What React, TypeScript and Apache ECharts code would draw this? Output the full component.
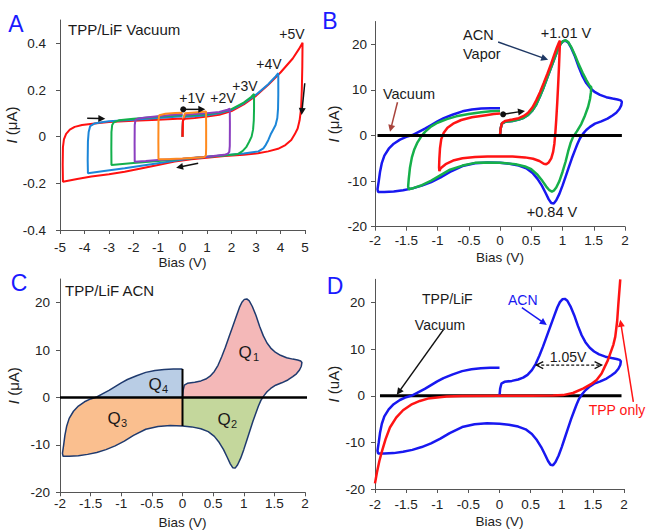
import React, { useEffect, useRef } from "react";
import * as echarts from "echarts";

type P = [number, number];
const FONT = "Liberation Sans, Arial, sans-serif";

// ---------- Panel A (TPP/LiF vacuum, sweeps to ±1..±5 V) ----------
const A_LOOP_1V: P[] = [[0,0],[0.02,0.07],[0.1,0.1],[0.5,0.104],[0.96,0.108],[0.965,0.05],[0.965,-0.05],[0.955,-0.08],[0.9,-0.087],[0.5,-0.09],[0,-0.094],[-0.5,-0.096],[-0.98,-0.097],[-0.985,-0.02],[-0.98,0.07],[-0.95,0.092],[-0.7,0.098],[-0.3,0.101],[0,0.103]];
const A_LOOP_2V: P[] = [[0,0],[0.02,0.07],[0.1,0.094],[0.5,0.097],[1,0.1],[1.5,0.106],[1.8,0.114],[1.93,0.12],[1.935,0.05],[1.93,-0.04],[1.91,-0.065],[1.85,-0.073],[1.7,-0.078],[1,-0.086],[0,-0.095],[-1,-0.1],[-1.5,-0.104],[-1.95,-0.107],[-1.955,-0.03],[-1.95,0.05],[-1.92,0.072],[-1.8,0.078],[-1.5,0.082],[-1,0.088],[-0.5,0.093],[0,0.097]];
const A_LOOP_3V: P[] = [[0,0],[0.02,0.07],[0.1,0.09],[0.5,0.093],[1,0.096],[1.5,0.103],[2,0.118],[2.5,0.146],[2.8,0.17],[2.92,0.183],[2.92,0.12],[2.91,0.07],[2.88,0.03],[2.82,0.0],[2.72,-0.022],[2.6,-0.045],[2.45,-0.062],[2.27,-0.074],[1.8,-0.08],[1,-0.086],[0.36,-0.093],[-0.5,-0.1],[-1.0,-0.104],[-2.0,-0.113],[-2.9,-0.121],[-2.905,-0.05],[-2.9,0.02],[-2.87,0.05],[-2.8,0.062],[-2.6,0.07],[-2,0.077],[-1,0.085],[0,0.093]];
const A_LOOP_4V: P[] = [[0,0],[0.02,0.07],[0.1,0.085],[0.5,0.088],[1,0.092],[1.5,0.1],[2,0.115],[2.5,0.143],[3,0.18],[3.5,0.225],[3.8,0.258],[3.91,0.272],[3.91,0.18],[3.9,0.12],[3.87,0.08],[3.8,0.05],[3.7,0.03],[3.6,0.01],[3.5,-0.015],[3.4,-0.035],[3.3,-0.05],[3.1,-0.063],[2.5,-0.072],[1.72,-0.08],[0.36,-0.093],[-1.0,-0.114],[-2.36,-0.135],[-3.2,-0.147],[-3.86,-0.157],[-3.87,-0.1],[-3.86,-0.02],[-3.83,0.02],[-3.77,0.045],[-3.6,0.056],[-3.3,0.062],[-3,0.066],[-2,0.073],[-1,0.08],[0,0.088]];
const A_LOOP_5V: P[] = [[0,0],[0.02,0.072],[0.1,0.077],[0.5,0.08],[1,0.086],[1.5,0.094],[2,0.11],[2.5,0.138],[3,0.175],[3.5,0.222],[4,0.275],[4.5,0.335],[4.75,0.375],[4.9,0.403],[4.89,0.3],[4.87,0.2],[4.84,0.12],[4.78,0.07],[4.7,0.035],[4.58,0.01],[4.44,-0.014],[4.2,-0.036],[3.9,-0.052],[3.5,-0.063],[3.08,-0.071],[2.5,-0.077],[1.72,-0.083],[0.36,-0.097],[-0.32,-0.107],[-1.0,-0.121],[-1.7,-0.136],[-2.36,-0.15],[-3.0,-0.161],[-3.72,-0.171],[-4.3,-0.181],[-4.88,-0.193],[-4.89,-0.12],[-4.88,-0.045],[-4.84,-0.012],[-4.75,0.012],[-4.6,0.03],[-4.4,0.042],[-4.1,0.05],[-3.5,0.058],[-3,0.063],[-2,0.068],[-1,0.073],[0,0.078]];
// arrows: [x1, y1, x2, y2, dotAtStart, doubleHead]
const A_ARROWS = [[-3.89,0.079,-3.15,0.077,0,0],[4.99,0.229,4.86,0.093,0,0],[0.64,-0.114,-0.26,-0.133,0,0],[0.03,0.117,0.93,0.117,1,0]];
const A_YTICKS = [-0.4,-0.2,0,0.2,0.4];

// ---------- Panel B / C / D (ACN vapour) ----------
const ACN_LOOP: P[] = [
  [0,0],[0.01,1.5],[0.03,2.6],[0.08,3.0],[0.2,3.2],[0.3,3.5],[0.38,3.9],[0.45,4.5],[0.52,5.5],[0.58,6.8],[0.64,8.6],[0.7,10.6],[0.76,12.8],[0.82,15.0],[0.88,17.2],[0.93,19.0],[0.97,20.1],[1.01,20.7],[1.05,20.8],[1.09,20.4],[1.14,19.2],[1.2,17.3],[1.26,15.0],[1.32,13.0],[1.38,11.5],[1.45,10.3],[1.52,9.5],[1.6,8.9],[1.7,8.4],[1.8,8.1],[1.88,7.9],[1.93,7.7],[1.95,7.4],
  [1.94,6.6],[1.91,5.8],[1.86,5.0],[1.8,4.4],[1.72,3.7],[1.62,3.1],[1.52,2.6],[1.44,1.9],[1.38,1.2],[1.33,0.4],[1.28,-0.6],[1.24,-1.8],[1.2,-3.2],[1.15,-5.0],[1.1,-7.0],[1.05,-9.0],[1.0,-11.0],[0.95,-12.8],[0.9,-14.2],[0.86,-14.9],[0.82,-14.8],[0.78,-14.0],[0.73,-12.6],[0.67,-11.0],[0.6,-9.5],[0.52,-8.2],[0.42,-7.2],[0.3,-6.6],[0.15,-6.2],[0,-6.0],
  [-0.2,-5.9],[-0.4,-6.1],[-0.6,-6.7],[-0.8,-8.0],[-0.95,-9.2],[-1.1,-10.2],[-1.25,-11.0],[-1.4,-11.6],[-1.55,-12.0],[-1.7,-12.3],[-1.85,-12.4],[-1.95,-12.4],
  [-1.96,-11.8],[-1.94,-10.0],[-1.92,-8.0],[-1.89,-6.0],[-1.85,-4.4],[-1.78,-2.9],[-1.7,-1.8],[-1.6,-0.9],[-1.5,-0.3],[-1.4,0.1],[-1.3,0.8],[-1.2,1.5],[-1.1,2.3],[-1.0,3.1],[-0.9,3.8],[-0.75,4.6],[-0.6,5.3],[-0.45,5.7],[-0.3,5.9],[-0.15,6.0],[0,6.0]
];
const B_LOOP_15V: P[] = [
  [0,0],[0.01,1.5],[0.03,2.6],[0.08,3.0],[0.2,3.2],[0.3,3.5],[0.38,3.9],[0.45,4.5],[0.52,5.5],[0.58,6.8],[0.64,8.6],[0.7,10.6],[0.76,12.8],[0.82,15.0],[0.88,17.2],[0.93,19.0],[0.97,20.1],[1.01,20.7],[1.05,20.9],[1.09,20.5],[1.14,19.4],[1.2,17.6],[1.26,15.6],[1.32,13.8],[1.38,12.2],[1.43,11.0],[1.46,10.6],
  [1.455,9.5],[1.44,8.0],[1.41,6.3],[1.36,4.4],[1.3,2.5],[1.23,0.9],[1.17,-0.3],[1.13,-1.6],[1.09,-3.5],[1.05,-5.7],[1.0,-8.0],[0.95,-10.0],[0.9,-11.4],[0.86,-12.1],[0.83,-12.3],[0.79,-12.0],[0.74,-11.2],[0.68,-10.0],[0.6,-8.6],[0.5,-7.4],[0.4,-6.8],[0.25,-6.3],[0.1,-6.1],[0,-6.0],
  [-0.2,-5.9],[-0.4,-6.0],[-0.6,-6.6],[-0.8,-7.5],[-0.95,-8.7],[-1.1,-9.9],[-1.25,-10.9],[-1.38,-11.5],[-1.46,-11.8],
  [-1.47,-11.2],[-1.46,-9.5],[-1.44,-7.0],[-1.41,-4.8],[-1.37,-3.0],[-1.32,-1.5],[-1.26,-0.2],[-1.2,0.8],[-1.1,2.0],[-1.0,2.8],[-0.85,3.6],[-0.7,4.2],[-0.5,4.7],[-0.3,5.1],[-0.15,5.3],[0,5.4]
];
const B_LOOP_1V: P[] = [
  [0,0],[0.01,1.5],[0.03,2.7],[0.08,3.2],[0.2,3.5],[0.3,3.8],[0.38,4.3],[0.45,5.0],[0.52,6.2],[0.58,7.7],[0.64,9.5],[0.7,11.5],[0.76,13.6],[0.82,15.8],[0.87,17.8],[0.91,19.3],[0.94,20.3],[0.96,20.8],
  [0.955,19.0],[0.945,15.5],[0.93,11.0],[0.915,7.0],[0.9,3.5],[0.885,0.5],[0.87,-1.8],[0.85,-3.6],[0.82,-5.0],[0.78,-5.9],[0.74,-6.3],[0.7,-6.2],[0.63,-5.6],[0.53,-5.1],[0.4,-4.8],[0.2,-4.6],[0,-4.6],[-0.2,-4.6],[-0.4,-4.7],[-0.6,-5.0],[-0.75,-5.5],[-0.87,-6.3],[-0.95,-7.2],[-0.97,-7.8],
  [-0.975,-7.0],[-0.97,-5.0],[-0.96,-2.8],[-0.94,-0.8],[-0.9,0.6],[-0.84,1.7],[-0.75,2.6],[-0.62,3.4],[-0.45,4.0],[-0.25,4.4],[-0.1,4.7],[0,4.8]
];
const B_VACUUM: P[] = [[-1.96,0],[1.95,0]];
const B_ARROWS_NAVY = [[-0.03,20.5,0.77,16.6,0,0]];
const B_ARROWS_BROWN = [[-1.64,7.3,-1.76,0.8,0,0]];
const B_ARROWS_BLACK = [[0.05,4.65,0.4,5.4,1,0]];

const C_ZERO: P[] = [[-2,0],[2.21,0]];
const C_SPLIT: P[] = [[0,6.0],[0,-6.0]];
const Q_FILLS = ["#f4b8b8", "#c4d79c", "#fabf8f", "#b9cde5"];

const D_VACUUM: P[] = [[-1.92,0],[1.96,0]];
const D_TPP_ONLY: P[] = [[-2,-18.8],[-1.97,-16.5],[-1.93,-14.0],[-1.89,-12.0],[-1.83,-9.3],[-1.76,-6.8],[-1.66,-4.7],[-1.55,-3.1],[-1.42,-1.9],[-1.28,-1.1],[-1.15,-0.6],[-1.0,-0.35],[-0.85,-0.15],[-0.6,-0.05],[0,0],[0.5,0.03],[0.86,0.05],[1.02,0.15],[1.18,0.6],[1.35,1.6],[1.47,2.5],[1.56,3.4],[1.64,4.8],[1.69,6.2],[1.74,7.6],[1.78,9.1],[1.83,11.0],[1.86,12.7],[1.89,16.0],[1.91,19.8],[1.94,25]];
const D_ARROWS_BLUE = [[0.36,18.9,0.76,15.2,0,0]];
const D_ARROWS_BLACK = [[-0.9,14.2,-1.65,0.2,0,0]];
const D_ARROWS_RED = [[2.15,-1.3,1.94,16.3,0,0]];
const D_ARROWS_DASH = [[0.59,6.6,1.64,6.6,0,1]];
const UA_YTICKS = [-20,-10,0,10,20];

function cut(a: P, b: P, ax: number): P {
  const t = a[ax] / (a[ax] - b[ax]);
  return [a[0] + (b[0] - a[0]) * t, a[1] + (b[1] - a[1]) * t];
}
function clipPoly(poly: P[], ax: number, sign: number): P[] {
  const out: P[] = [];
  const inside = (p: P) => sign * p[ax] >= 0;
  for (let i = 0; i < poly.length; i++) {
    const cur = poly[i];
    const prev = poly[(i + poly.length - 1) % poly.length];
    const ci = inside(cur), pi = inside(prev);
    if (ci) {
      if (!pi) out.push(cut(prev, cur, ax));
      out.push(cur);
    } else if (pi) out.push(cut(prev, cur, ax));
  }
  return out;
}

const line = (data: P[], color: string, width: number, gi: number, extra: any = {}) => ({
  type: "line", data, xAxisIndex: gi, yAxisIndex: gi, showSymbol: false, symbol: "none",
  silent: true, lineStyle: { color, width }, itemStyle: { color }, ...extra,
});

const arrows = (data: number[][], color: string, gi: number, dashed = false, width = 1.5) => ({
  type: "custom", xAxisIndex: gi, yAxisIndex: gi, silent: true, clip: false, z: 6,
  dimensions: ["x1", "y1", "x2", "y2", "dot", "dbl"],
  encode: { x: [0, 2], y: [1, 3] },
  data,
  renderItem: (_p: any, api: any) => {
    const a = api.coord([api.value(0), api.value(1)]);
    const b = api.coord([api.value(2), api.value(3)]);
    const dot = api.value(4), dbl = api.value(5);
    const dx = b[0] - a[0], dy = b[1] - a[1];
    const L = Math.hypot(dx, dy) || 1;
    const ux = dx / L, uy = dy / L;
    const HL = 7, HW = 3.5;
    const head = (t: number[], sx: number, sy: number) => [
      [t[0] - sx * HL - sy * HW, t[1] - sy * HL + sx * HW],
      [t[0], t[1]],
      [t[0] - sx * HL + sy * HW, t[1] - sy * HL - sx * HW],
    ];
    const children: any[] = [];
    const s = dbl && !dashed ? [a[0] + ux * HL * 0.7, a[1] + uy * HL * 0.7] : a;
    const e = dashed ? b : [b[0] - ux * HL * 0.7, b[1] - uy * HL * 0.7];
    children.push({ type: "line", shape: { x1: s[0], y1: s[1], x2: e[0], y2: e[1] },
      style: { stroke: color, lineWidth: width, lineDash: dashed ? [3, 2] : null } });
    const heads = [head(b, ux, uy)];
    if (dbl) heads.push(head(a, -ux, -uy));
    heads.forEach((h) => {
      if (dashed) children.push({ type: "polyline", shape: { points: h }, style: { stroke: color, lineWidth: 1.3, fill: null } });
      else children.push({ type: "polygon", shape: { points: h }, style: { fill: color } });
    });
    if (dot) children.push({ type: "circle", shape: { cx: a[0], cy: a[1], r: 3 }, style: { fill: color } });
    return { type: "group", children };
  },
});

const quadrants = {
  type: "custom", xAxisIndex: 2, yAxisIndex: 2, silent: true, z: 1,
  dimensions: ["x", "y", "q"],
  data: Q_FILLS.map((_c, i) => [0, 0, i]),
  renderItem: (_p: any, api: any) => {
    const q = api.value(2);
    const sx = q === 0 || q === 1 ? 1 : -1;
    const sy = q === 0 || q === 3 ? 1 : -1;
    const poly = clipPoly(clipPoly(ACN_LOOP, 0, sx), 1, sy);
    return { type: "polygon", shape: { points: poly.map((p) => api.coord(p)) }, style: { fill: Q_FILLS[q] } };
  },
};

const AXC = "#555";
const xAx = (gi: number, min: number, max: number, interval: number, margin: number, gap: number) => ({
  type: "value", gridIndex: gi, min, max, interval,
  name: "Bias (V)", nameLocation: "middle", nameGap: gap,
  nameTextStyle: { fontSize: 13.5, color: "#222", fontFamily: FONT },
  axisLine: { onZero: false, lineStyle: { color: AXC, width: 1 } },
  axisTick: { length: 4, lineStyle: { color: AXC } },
  axisLabel: { fontSize: 13.5, color: "#222", fontFamily: FONT, margin },
  splitLine: { show: false },
});
const yAx = (gi: number, min: number, max: number, ticks: number[], margin: number, gap: number, unit: string) => ({
  type: "value", gridIndex: gi, min, max,
  name: "{i|I} (" + unit + ")", nameLocation: "middle", nameRotate: 90, nameGap: gap,
  nameTextStyle: { fontSize: 15, color: "#222", fontFamily: FONT,
    rich: { i: { fontStyle: "italic", fontSize: 15, color: "#222", fontFamily: FONT } } },
  axisLine: { onZero: false, lineStyle: { color: AXC, width: 1 } },
  axisTick: { length: 4, lineStyle: { color: AXC }, customValues: ticks },
  axisLabel: { fontSize: 13.5, color: "#222", fontFamily: FONT, margin, customValues: ticks },
  splitLine: { show: false },
});

const txt = (x: number, y: number, text: string, opts: any = {}) => ({
  type: "text", x, y, silent: true, z: 10,
  style: { text, fill: opts.color || "#1a1a1a", fontSize: opts.size || 14, fontFamily: FONT,
    fontStyle: opts.italic ? "italic" : "normal",
    align: opts.align || "center", verticalAlign: "middle" },
});

export default function App() {
  const ref = useRef<HTMLDivElement>(null);
  useEffect(() => {
    if (!ref.current) return;
    const chart = echarts.init(ref.current, null, { renderer: "svg" });
    const LETTER = "#1a1aff";
    chart.setOption({
      animation: false,
      backgroundColor: "#fff",
      grid: [
        { left: 60, top: 20, width: 245, height: 210 },
        { left: 375, top: 21.5, width: 250, height: 205.2 },
        { left: 60, top: 279, width: 245, height: 213.3 },
        { left: 375, top: 279.3, width: 249, height: 209.7 },
      ],
      xAxis: [
        xAx(0, -5, 5, 1, 10, 25),
        xAx(1, -2, 2, 0.5, 7, 24),
        xAx(2, -2, 2, 0.5, 4, 23),
        xAx(3, -2, 2, 0.5, 8, 25),
      ],
      yAxis: [
        yAx(0, -0.4, 0.5, A_YTICKS, 14, 37, "μA"),
        yAx(1, -20, 25, UA_YTICKS, 8, 34, "μA"),
        yAx(2, -20, 25, UA_YTICKS, 10, 39, "μA"),
        yAx(3, -20, 25, UA_YTICKS, 10, 34, "uA"),
      ],
      series: [
        line(A_LOOP_5V, "#ff1010", 2, 0),
        line(A_LOOP_4V, "#1c86d8", 2, 0),
        line(A_LOOP_3V, "#12b04c", 2, 0),
        line(A_LOOP_2V, "#8b3fc0", 2, 0),
        line(A_LOOP_1V, "#ff8a1e", 2, 0),
        line(A_LOOP_5V.slice(0, 3), "#ff1010", 2, 0),
        arrows(A_ARROWS, "#111", 0),

        line(ACN_LOOP, "#1818f0", 2.5, 1),
        line(B_LOOP_15V, "#16b04a", 2.5, 1),
        line(B_LOOP_1V, "#ff1414", 2.5, 1),
        line(B_VACUUM, "#000", 3, 1),
        arrows(B_ARROWS_NAVY, "#1f3864", 1),
        arrows(B_ARROWS_BROWN, "#a8443c", 1),
        arrows(B_ARROWS_BLACK, "#111", 1),

        quadrants,
        line(ACN_LOOP, "#1f3a6e", 1.5, 2, { z: 3 }),
        line(C_ZERO, "#000", 2.5, 2, { clip: false, z: 4 }),
        line(C_SPLIT, "#000", 2, 2, { z: 4 }),

        line(D_VACUUM, "#000", 3, 3),
        line(ACN_LOOP, "#1818f0", 2.5, 3),
        line(D_TPP_ONLY, "#ff1414", 2.5, 3, { clip: false }),
        arrows(D_ARROWS_BLUE, "#1818f0", 3),
        arrows(D_ARROWS_BLACK, "#111", 3),
        arrows(D_ARROWS_RED, "#ff1414", 3),
        arrows(D_ARROWS_DASH, "#111", 3, true, 1.3),
      ],
      graphic: [
        txt(16, 24, "A", { color: LETTER, size: 23 }),
        txt(330, 21, "B", { color: LETTER, size: 23 }),
        txt(19, 283, "C", { color: LETTER, size: 23 }),
        txt(335, 286, "D", { color: LETTER, size: 23 }),
        txt(68, 29, "TPP/LiF Vacuum", { align: "left", size: 15 }),
        txt(192, 98, "+1V"),
        txt(223, 98, "+2V"),
        txt(245, 86, "+3V"),
        txt(269, 64, "+4V"),
        txt(292, 34, "+5V"),
        txt(463, 35, "ACN", { align: "left", size: 14.5 }),
        txt(463, 54, "Vapor", { align: "left", size: 14.5 }),
        txt(566, 33, "+1.01 V", { size: 14.5 }),
        txt(409, 94, "Vacuum", { size: 14.5 }),
        txt(552, 212, "+0.84 V", { size: 14.5 }),
        txt(65, 290, "TPP/LiF ACN", { align: "left", size: 15 }),
        txt(245, 352, "Q", { size: 17 }),
        txt(253, 357, "1", { align: "left", size: 11 }),
        txt(224, 419, "Q", { size: 17 }),
        txt(231, 424, "2", { align: "left", size: 11 }),
        txt(114, 418, "Q", { size: 17 }),
        txt(121, 423, "3", { align: "left", size: 11 }),
        txt(155, 384, "Q", { size: 17 }),
        txt(162, 389, "4", { align: "left", size: 11 }),
        txt(422, 299, "TPP/LiF", { align: "left", size: 14 }),
        txt(508, 300, "ACN", { align: "left", size: 14, color: "#1818f0" }),
        txt(440, 325, "Vacuum", { size: 14 }),
        txt(568, 357, "1.05V", { size: 14 }),
        txt(617, 410, "TPP only", { size: 14, color: "#ff1414" }),
      ],
    });
    return () => chart.dispose();
  }, []);
  return (
    <div ref={ref} style={{ position: "fixed", left: 0, top: 0, width: 647, height: 532, background: "#fff" }} />
  );
}
